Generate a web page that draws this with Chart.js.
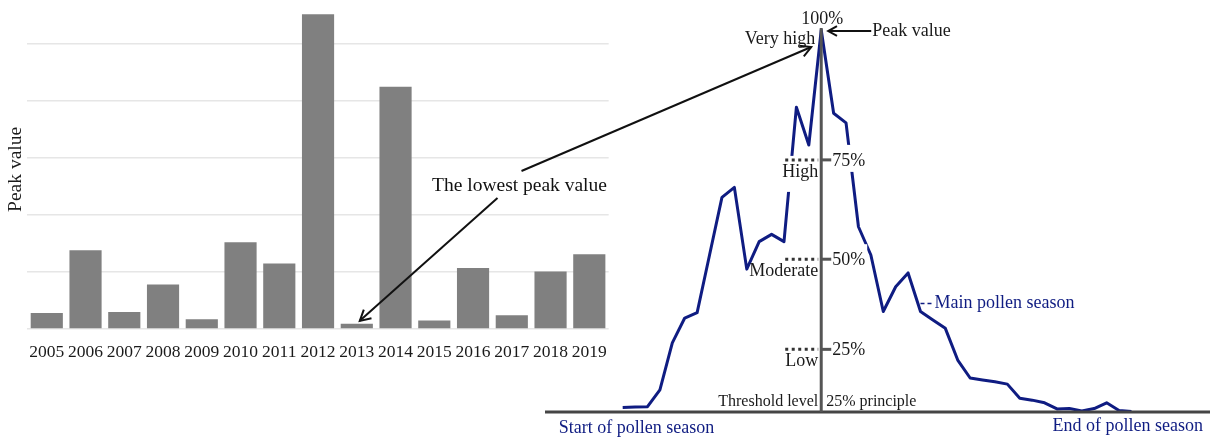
<!DOCTYPE html>
<html>
<head>
<meta charset="utf-8">
<script src="https://cdn.jsdelivr.net/npm/chart.js@4.4.1/dist/chart.umd.min.js"></script>
<style>
  html, body { margin: 0; padding: 0; background: #fff; overflow: hidden; }
  #wrap { position: relative; width: 1212px; height: 437px; }
  canvas { position: absolute; top: 0; }
  #bars { left: 0; }
  #season { left: 540px; }
  #overlay { left: 0; pointer-events: none; }
</style>
</head>
<body>
<div id="wrap">
  <canvas id="bars" width="620" height="394"></canvas>
  <canvas id="season" width="672" height="437"></canvas>
  <canvas id="overlay" width="1212" height="437"></canvas>
</div>
<script>
// left panel: yearly peak values (no units shown on the axis)
const years = ['2005','2006','2007','2008','2009','2010','2011','2012','2013','2014','2015','2016','2017','2018','2019'];
const peakValues = [0.28, 1.38, 0.30, 0.78, 0.17, 1.52, 1.15, 5.52, 0.09, 4.25, 0.15, 1.07, 0.24, 1.01, 1.31];

// right panel: schematic pollen season curve (day index, % of peak)
const days = [0,1,2,3,4,5,6,7,8,9,10,11,12,13,14,15,16,17,18,19,20,21,22,23,24,25,26,27,28,29,30,31,32,33,34,35,36,37,38,39,40,41];
const concentration = [1.2,1.3,1.4,5.8,18.1,24.6,26.0,41.1,56.2,58.8,37.4,44.6,46.5,44.6,79.8,69.9,100,78.2,75.7,48.5,41.1,26.3,32.8,36.4,26.3,24.1,21.9,13.6,8.9,8.4,7.9,7.3,3.6,3.1,2.4,0.8,0.9,0.3,0.9,2.4,0.4,0.1];

// level marks on the vertical axis (schematic, not linear)
const levelNames = ['Low', 'Moderate', 'High'];
const levelLabels = ['25%', '50%', '75%'];
const levelPos = [16.4, 40.0, 66.0];

const serif = '"Liberation Serif", "Times New Roman", serif';
const navy = '#0f1c82';
Chart.defaults.font.family = serif;

const peakIdx = concentration.indexOf(Math.max(...concentration));

function arrow(ctx, x1, y1, x2, y2, head) {
  ctx.beginPath();
  ctx.moveTo(x1, y1);
  ctx.lineTo(x2, y2);
  ctx.stroke();
  const a = Math.atan2(y2 - y1, x2 - x1);
  ctx.beginPath();
  ctx.moveTo(x2 - head * Math.cos(a - 0.5), y2 - head * Math.sin(a - 0.5));
  ctx.lineTo(x2, y2);
  ctx.lineTo(x2 - head * Math.cos(a + 0.5), y2 - head * Math.sin(a + 0.5));
  ctx.stroke();
}

const barChart = new Chart(document.getElementById('bars'), {
  type: 'bar',
  data: {
    labels: years,
    datasets: [{
      data: peakValues,
      backgroundColor: '#808080',
      borderWidth: 0,
      barPercentage: 0.83,
      categoryPercentage: 1
    }]
  },
  options: {
    responsive: false,
    animation: false,
    layout: { padding: { left: 4, right: 6, top: 9.8, bottom: 18 } },
    plugins: { legend: { display: false }, tooltip: { enabled: false } },
    scales: {
      x: {
        grid: { display: false, drawTicks: false },
        border: { display: false },
        ticks: { color: '#1a1a1a', font: { size: 17.5 }, padding: 13, maxRotation: 0, autoSkip: false }
      },
      y: {
        min: 0,
        max: 5.6,
        grid: {
          color: (c) => (c.tick && c.tick.value > 5 ? 'rgba(0,0,0,0)' : '#e6e6e6'),
          lineWidth: 1.5,
          drawTicks: false
        },
        border: { display: false },
        ticks: { display: false, stepSize: 1 },
        title: { display: true, text: 'Peak value', color: '#1a1a1a', font: { size: 19.5 }, padding: 0 }
      }
    }
  }
});

// axis, level marks and labels of the schematic
const seasonMarks = {
  id: 'seasonMarks',
  afterDatasetsDraw(chart) {
    const { ctx, chartArea, scales: { x, y } } = chart;
    const ax = x.getPixelForValue(days[peakIdx]);
    const y0 = y.getPixelForValue(0);
    const yTop = y.getPixelForValue(100);
    ctx.save();

    // white boxes behind level labels (they cut the curve)
    ctx.font = '18px ' + serif;
    levelPos.forEach((v, i) => {
      const ly = y.getPixelForValue(v);
      ctx.fillStyle = '#fff';
      ctx.fillRect(ax - 40, ly - 4, 37, 36);
      const w = ctx.measureText(levelLabels[i]).width;
      ctx.fillRect(ax + 10, ly - 15, w + 3, 27);
    });

    // baseline
    ctx.strokeStyle = '#454545';
    ctx.lineWidth = 3;
    ctx.beginPath();
    ctx.moveTo(chartArea.left, y0);
    ctx.lineTo(chartArea.right, y0);
    ctx.stroke();

    // vertical axis at the peak
    ctx.strokeStyle = '#555';
    ctx.beginPath();
    ctx.moveTo(ax, yTop - 2);
    ctx.lineTo(ax, y0);
    ctx.stroke();

    levelPos.forEach((v, i) => {
      const ly = y.getPixelForValue(v);
      ctx.strokeStyle = '#555';
      ctx.lineWidth = 3;
      ctx.setLineDash([]);
      ctx.beginPath();
      ctx.moveTo(ax, ly);
      ctx.lineTo(ax + 10, ly);
      ctx.stroke();
      ctx.strokeStyle = '#333';
      ctx.setLineDash([3, 3.5]);
      ctx.beginPath();
      ctx.moveTo(ax - 36, ly);
      ctx.lineTo(ax - 3, ly);
      ctx.stroke();
      ctx.setLineDash([]);

      ctx.fillStyle = '#1a1a1a';
      ctx.font = '18px ' + serif;
      ctx.textBaseline = 'middle';
      ctx.textAlign = 'left';
      ctx.fillText(levelLabels[i], ax + 11, ly + 1);
      ctx.textAlign = 'right';
      ctx.fillText(levelNames[i], ax - 3, ly + 12);
    });

    ctx.fillStyle = '#1a1a1a';
    ctx.font = '18px ' + serif;
    ctx.textBaseline = 'middle';
    ctx.textAlign = 'center';
    ctx.fillText('100%', ax + 1, yTop - 11);
    ctx.textAlign = 'right';
    ctx.fillText('Very high', ax - 6, yTop + 9);

    // "Peak value" pointer
    ctx.strokeStyle = '#111';
    ctx.lineWidth = 2;
    arrow(ctx, ax + 50, yTop + 1, ax + 7, yTop + 1, 10);
    ctx.textAlign = 'left';
    ctx.fillText('Peak value', ax + 51, yTop + 1);

    ctx.font = '16px ' + serif;
    ctx.textAlign = 'right';
    ctx.fillText('Threshold level', ax - 3, y0 - 10);
    ctx.textAlign = 'left';
    ctx.fillText('25% principle', ax + 5, y0 - 10);

    // season labels
    ctx.fillStyle = navy;
    ctx.font = '18px ' + serif;
    const mx = x.getPixelForValue(days[24]);
    const my = y.getPixelForValue(concentration[24]) - 8;
    ctx.strokeStyle = navy;
    ctx.lineWidth = 1.5;
    ctx.setLineDash([4, 3]);
    ctx.beginPath();
    ctx.moveTo(mx, my);
    ctx.lineTo(mx + 13, my);
    ctx.stroke();
    ctx.setLineDash([]);
    ctx.textAlign = 'left';
    ctx.fillText('Main pollen season', mx + 14, my);
    ctx.fillText('Start of pollen season', x.getPixelForValue(days[0]) - 64, y0 + 16);
    ctx.textAlign = 'right';
    ctx.fillText('End of pollen season', chartArea.right - 7, y0 + 14);
    ctx.restore();
  }
};

const seasonChart = new Chart(document.getElementById('season'), {
  type: 'line',
  data: {
    datasets: [{
      data: days.map((d, i) => ({ x: d, y: concentration[i] })),
      borderColor: navy,
      borderWidth: 3,
      borderJoinStyle: 'round',
      pointRadius: 0,
      tension: 0,
      fill: false
    }]
  },
  options: {
    responsive: false,
    animation: false,
    layout: { padding: { left: 5, right: 2, top: 10, bottom: 25 } },
    plugins: { legend: { display: false }, tooltip: { enabled: false } },
    scales: {
      x: { type: 'linear', min: -6.26, max: 47.33, display: false },
      y: { min: 0, max: 105.24, display: false }
    }
  },
  plugins: [seasonMarks]
});

// annotation that spans both panels
(function drawOverlay() {
  const ctx = document.getElementById('overlay').getContext('2d');
  const offX = 540;
  const bx = barChart.scales.x.getPixelForValue(8);
  const by = barChart.scales.y.getPixelForValue(peakValues[8]);
  const px = seasonChart.scales.x.getPixelForValue(days[peakIdx]) + offX;
  const py = seasonChart.scales.y.getPixelForValue(concentration[peakIdx]);

  const lx = 519.5, ly = 186;
  ctx.fillStyle = '#111';
  ctx.font = '19.5px ' + serif;
  ctx.textAlign = 'center';
  ctx.textBaseline = 'middle';
  ctx.fillText('The lowest peak value', lx, ly);

  ctx.strokeStyle = '#111';
  ctx.lineWidth = 2;
  arrow(ctx, lx - 22, ly + 12, bx + 3, by - 3, 12);
  arrow(ctx, lx + 2, ly - 15, px - 10, py + 17, 12);
})();
</script>
</body>
</html>
